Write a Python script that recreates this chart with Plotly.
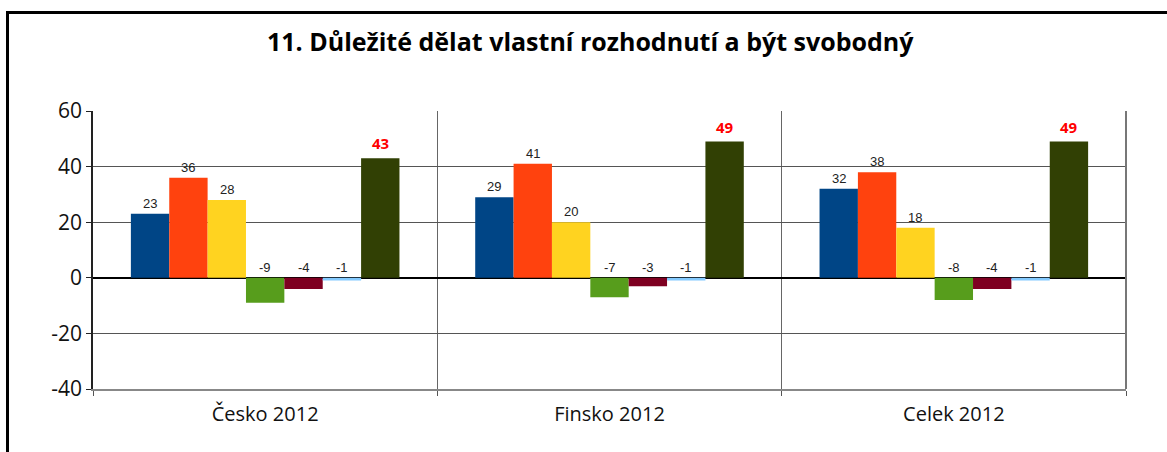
import plotly.graph_objects as go

categories = ["Česko 2012", "Finsko 2012", "Celek 2012"]
series_names = ["S1", "S2", "S3", "S4", "S5", "S6", "S7"]
values = [
    [23, 29, 32],
    [36, 41, 38],
    [28, 20, 18],
    [-9, -7, -8],
    [-4, -3, -4],
    [-1, -1, -1],
    [43, 49, 49],
]
colors = ["#004586", "#ff420e", "#ffd320", "#579d1c", "#7e0021", "#83caff", "#314004"]
y_ticks = [-40, -20, 0, 20, 40, 60]
y_ticktext = ["-40", "-20", "0", "20", "40", "60"]
title = "11. Důležité dělat vlastní rozhodnutí a být svobodný"

W, H = 1167, 452
L, R, T, B = 93, 41, 111, 63
pw, ph = W - L - R, H - T - B

bargap = 0.22
n = len(series_names)

fig = go.Figure()
for j, name in enumerate(series_names):
    fig.add_trace(go.Bar(
        x=categories, y=values[j], name=name,
        marker=dict(color=colors[j], line=dict(width=0)),
        showlegend=False,
    ))

annotations = []
w = (1 - bargap) / n
for j in range(n):
    last = j == n - 1
    for i, v in enumerate(values[j]):
        x = i - (1 - bargap) / 2 + (j + 0.5) * w
        annotations.append(dict(
            x=x, y=max(v, 0), xref="x", yref="y",
            text=f"<b>{v}</b>" if last else str(v),
            showarrow=False, yanchor="bottom", yshift=3 if last else 1,
            font=dict(family="Open Sans" if last else "Liberation Sans, Arial",
                      size=15 if last else 13,
                      color="#ff0000" if last else "#222222"),
        ))

annotations.append(dict(
    text=f"<b>{title}</b>", xref="paper", yref="paper",
    x=(590 - L) / pw, y=(H - B - 41) / ph, xanchor="center", yanchor="middle",
    showarrow=False, font=dict(family="Open Sans", size=25, color="#000"),
))

fig.update_layout(
    width=W, height=H,
    margin=dict(l=L, r=R, t=T, b=B, autoexpand=False),
    paper_bgcolor="white", plot_bgcolor="white",
    barmode="group", bargap=bargap, bargroupgap=0,
    annotations=annotations,
    shapes=[
        dict(type="rect", xref="paper", yref="paper",
             x0=(7.5 - L) / pw, x1=(W + 20 - L) / pw,
             y0=(H - B - (H + 20)) / ph, y1=(H - B - 12.5) / ph,
             line=dict(color="#000", width=3)),
        dict(type="line", xref="paper", yref="paper", x0=1, x1=1, y0=0, y1=1,
             line=dict(color="#777", width=2)),
    ],
)

fig.update_xaxes(
    type="category", tickson="boundaries", ticks="outside", ticklen=5, tickcolor="#555",
    showgrid=True, gridcolor="#666", gridwidth=1,
    showline=True, linecolor="#888", linewidth=1.5, mirror=False,
    tickfont=dict(family="Open Sans", size=20, color="#111"),
    ticklabelstandoff=6,
    range=[-0.5, 2.5],
)
fig.update_yaxes(
    range=[-40, 60], tickvals=y_ticks, ticktext=y_ticktext,
    ticks="outside", ticklen=5, tickcolor="#222",
    showgrid=True, gridcolor="#555", gridwidth=1,
    zeroline=True, zerolinecolor="#000", zerolinewidth=1.5,
    showline=True, linecolor="#222", linewidth=1.5,
    tickfont=dict(family="Open Sans", size=21, color="#111"),
)

fig.write_html("out.html", config={"displayModeBar": False},
               post_script="document.body.style.margin='0';document.body.style.overflow='hidden';")
